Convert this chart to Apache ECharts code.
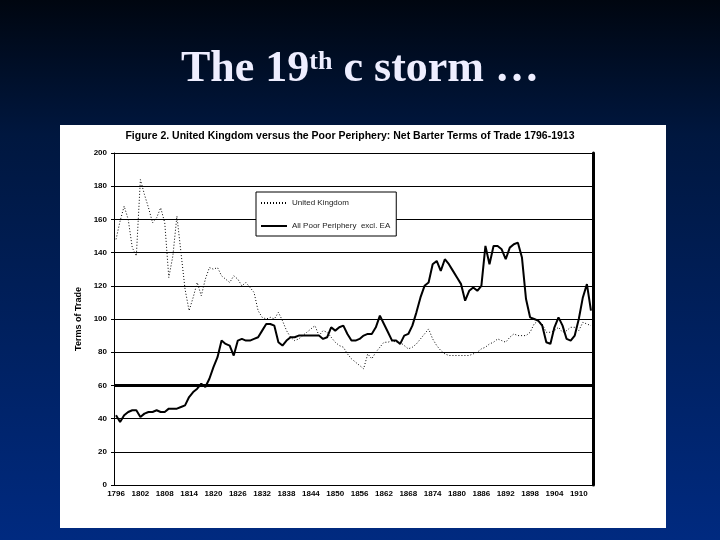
<!DOCTYPE html>
<html>
<head>
<meta charset="utf-8">
<script src="https://cdn.jsdelivr.net/npm/echarts@6/dist/echarts.min.js"></script>
<style>
  html, body { margin: 0; padding: 0; }
  #chart { width: 720px; height: 540px; }
</style>
</head>
<body>
<div id="chart"></div>
<script>
const years = [
  "1796","1797","1798","1799","1800","1801","1802","1803","1804","1805",
  "1806","1807","1808","1809","1810","1811","1812","1813","1814","1815",
  "1816","1817","1818","1819","1820","1821","1822","1823","1824","1825",
  "1826","1827","1828","1829","1830","1831","1832","1833","1834","1835",
  "1836","1837","1838","1839","1840","1841","1842","1843","1844","1845",
  "1846","1847","1848","1849","1850","1851","1852","1853","1854","1855",
  "1856","1857","1858","1859","1860","1861","1862","1863","1864","1865",
  "1866","1867","1868","1869","1870","1871","1872","1873","1874","1875",
  "1876","1877","1878","1879","1880","1881","1882","1883","1884","1885",
  "1886","1887","1888","1889","1890","1891","1892","1893","1894","1895",
  "1896","1897","1898","1899","1900","1901","1902","1903","1904","1905",
  "1906","1907","1908","1909","1910","1911","1912","1913"
]

const ukValues = [
  148, 159, 168, 160, 143, 138, 184, 175, 167, 158,
  161, 167, 158, 125, 138, 162, 140, 118, 105, 113,
  122, 114, 124, 131, 130, 131, 126, 124, 122, 126,
  124, 120, 122, 119, 116, 105, 101, 100, 101, 100,
  104, 99, 93, 89, 87, 88, 90, 92, 94, 96,
  90, 93, 92, 89, 86, 84, 83, 79, 76, 74,
  72, 70, 79, 76, 80, 83, 86, 86, 87, 86,
  86, 84, 82, 83, 85, 88, 91, 94, 88, 84,
  81, 79, 78, 78, 78, 78, 78, 78, 79, 80,
  82, 83, 85, 86, 88, 87, 86, 89, 91, 90,
  90, 90, 92, 97, 99, 97, 92, 92, 93, 95,
  92, 93, 95, 95, 93, 98, 97, 96
]

const peripheryValues = [
  42, 38, 42, 44, 45, 45, 41, 43, 44, 44,
  45, 44, 44, 46, 46, 46, 47, 48, 53, 56,
  58, 61, 59, 64, 71, 77, 87, 85, 84, 78,
  87, 88, 87, 87, 88, 89, 93, 97, 97, 96,
  86, 84, 87, 89, 89, 90, 90, 90, 90, 90,
  90, 88, 89, 95, 93, 95, 96, 91, 87, 87,
  88, 90, 91, 91, 95, 102, 97, 92, 87, 87,
  85, 90, 91, 96, 104, 113, 120, 122, 133, 135,
  129, 136, 133, 129, 125, 121, 111, 117, 119, 117,
  120, 144, 133, 144, 144, 142, 136, 143, 145, 146,
  137, 112, 101, 100, 99, 96, 86, 85, 95, 101,
  96, 88, 87, 90, 100, 113, 121, 105
]

const seriesNames = ["United Kingdom", "All Poor Periphery  excl. EA"]

const myChart = echarts.init(document.getElementById("chart"))

const option = {
  animation: false,
  backgroundColor: new echarts.graphic.LinearGradient(0, 0, 0, 1, [
    { offset: 0, color: "#000610" },
    { offset: 0.25, color: "#00173f" },
    { offset: 1, color: "#002a80" },
  ]),
  graphic: [
    {
      type: "rect",
      z: -10,
      shape: { x: 60, y: 125, width: 606, height: 403 },
      style: { fill: "#ffffff" },
    },
  ],
  title: [
    {
      text: "{a|The 19}{b|th}{a| c storm …}",
      left: "center",
      top: 40,
      padding: 0,
      textStyle: {
        rich: {
          a: {
            fontFamily: "Liberation Serif",
            fontWeight: "bold",
            fontSize: 44,
            lineHeight: 52,
            color: "#eeeeff",
            verticalAlign: "bottom",
          },
          b: {
            fontFamily: "Liberation Serif",
            fontWeight: "bold",
            fontSize: 26,
            lineHeight: 28,
            color: "#eeeeff",
            verticalAlign: "top",
            padding: [9, 0, 0, 0],
          },
        },
      },
    },
    {
      text: "Figure 2. United Kingdom versus the Poor Periphery: Net Barter Terms of Trade 1796-1913",
      left: 350,
      textAlign: "center",
      top: 131,
      padding: 0,
      textStyle: {
        fontFamily: "Liberation Sans",
        fontWeight: "bold",
        fontSize: 10.5,
        color: "#000",
      },
    },
  ],
  legend: {
    orient: "vertical",
    left: 256,
    top: 192,
    padding: [7, 6, 6, 4],
    itemGap: 15,
    itemWidth: 26,
    itemHeight: 10,
    backgroundColor: "#ffffff",
    borderColor: "#000",
    borderWidth: 1,
    itemStyle: { opacity: 0 },
    data: seriesNames,
    textStyle: {
      fontFamily: "Liberation Sans",
      fontSize: 8,
      color: "#222",
    },
  },
  grid: {
    left: 114,
    right: 127,
    top: 153,
    bottom: 55,
    containLabel: false,
  },
  xAxis: {
    type: "category",
    data: years,
    boundaryGap: true,
    axisLine: { lineStyle: { color: "#000", width: 1 } },
    axisTick: { interval: 5, length: 3, lineStyle: { color: "#000" } },
    axisLabel: {
      interval: 5,
      margin: 5,
      fontFamily: "Liberation Sans",
      fontWeight: "bold",
      fontSize: 8,
      color: "#000",
    },
    splitLine: { show: false },
  },
  yAxis: [
    {
      type: "value",
      min: 0,
      max: 200,
      interval: 20,
      name: "Terms of Trade",
      nameLocation: "middle",
      nameGap: 25,
      nameTextStyle: {
        fontFamily: "Liberation Sans",
        fontWeight: "bold",
        fontSize: 9,
        color: "#000",
      },
      axisLine: { show: true, lineStyle: { color: "#000", width: 1 } },
      axisTick: { show: true, length: 3, lineStyle: { color: "#000" } },
      axisLabel: {
        margin: 7,
        fontFamily: "Liberation Sans",
        fontWeight: "bold",
        fontSize: 8,
        color: "#000",
      },
      splitLine: { show: true, lineStyle: { color: "#000", width: 1 } },
    },
    {
      type: "value",
      position: "right",
      min: 0,
      max: 200,
      interval: 20,
      axisLine: { show: true, lineStyle: { color: "#000", width: 3 } },
      axisTick: { show: false },
      axisLabel: { show: false },
      splitLine: { show: false },
    },
  ],
  series: [
    {
      name: seriesNames[0],
      type: "line",
      data: ukValues,
      symbol: "none",
      lineStyle: { color: "#000", width: 1, type: [1, 2] },
      itemStyle: { color: "#000" },
    },
    {
      name: seriesNames[1],
      type: "line",
      data: peripheryValues,
      symbol: "none",
      lineStyle: { color: "#000", width: 2 },
      itemStyle: { color: "#000" },
      markLine: {
        silent: true,
        symbol: ["none", "none"],
        label: { show: false },
        lineStyle: { color: "#000", width: 3, type: "solid" },
        data: [{ yAxis: 60 }],
      },
    },
  ],
}

option && myChart.setOption(option)
</script>
</body>
</html>
